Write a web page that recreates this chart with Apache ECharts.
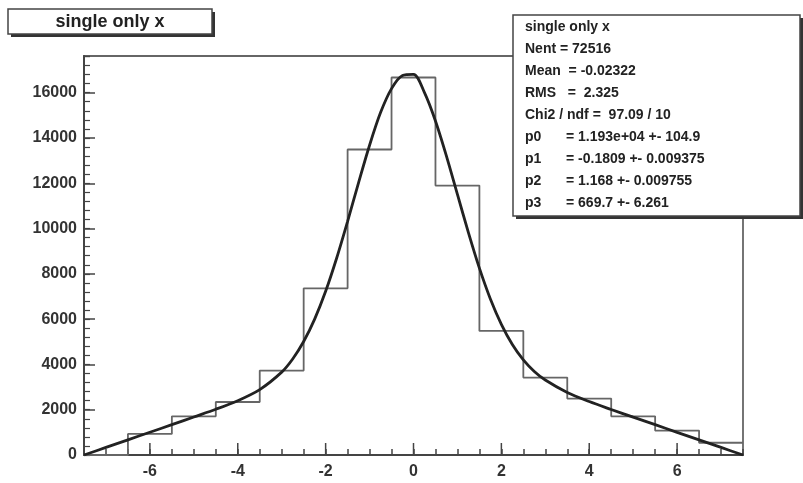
<!DOCTYPE html>
<html>
<head>
<meta charset="utf-8">
<script src="https://cdn.jsdelivr.net/npm/echarts@6/dist/echarts.min.js"></script>
<style>
html,body{margin:0;padding:0;background:#fff;}
#c{width:803px;height:483px;}
</style>
</head>
<body>
<div id="c"></div>
<script>
// ---- data ----
const binEdges = [-7.5,-6.5,-5.5,-4.5,-3.5,-2.5,-1.5,-0.5,0.5,1.5,2.5,3.5,4.5,5.5,6.5,7.5];
const counts   = [0, 930, 1710, 2340, 3730, 7360, 13490, 16670, 11900, 5480, 3420, 2490, 1710, 1080, 540];

const fitX = [-7.5,-7,-6.5,-6,-5.5,-5,-4.5,-4,-3.5,-3,-2.75,-2.5,-2.25,-2,-1.75,-1.5,-1.25,-1,-0.75,-0.5,-0.25,0,0.25,0.5,0.75,1,1.25,1.5,1.75,2,2.25,2.5,2.75,3,3.5,4,4.5,5,5.5,6,6.5,7,7.5];
const fitY = [0,335,670,1005,1340,1680,2020,2400,2890,3660,4240,5010,6000,7230,8690,10320,12030,13680,15120,16180,16760,16810,16000,14750,13200,11510,9820,8250,6890,5770,4880,4200,3690,3310,2760,2360,2010,1670,1340,1000,670,335,0];

const xTickLabels = [-6,-4,-2,0,2,4,6];
const titleText = 'single only x';
const statsLabels = ['single only x','Nent = 72516','Mean  = -0.02322','RMS   =  2.325','Chi2 / ndf =  97.09 / 10','p0','p1','p2','p3'];
const statsValues = ['','','','','','= 1.193e+04 +- 104.9','= -0.1809 +- 0.009375','= 1.168 +- 0.009755','= 669.7 +- 6.261'];

// ---- build ----
const histData = [];
for (let i = 0; i < counts.length; i++) histData.push([binEdges[i], counts[i]]);
histData.push([binEdges[binEdges.length-1], counts[counts.length-1]]);
const fitData = fitX.map((x,i)=>[x, fitY[i]]);

const FONT = '"Liberation Sans", Arial, Helvetica, sans-serif';
const chart = echarts.init(document.getElementById('c'), null, {renderer:'canvas'});

const graphics = [];
// title box
graphics.push({type:'rect', shape:{x:11,y:12,width:204,height:25}, style:{fill:'#333'}, z:100});
graphics.push({type:'rect', shape:{x:8,y:9,width:204,height:25}, style:{fill:'#fff',stroke:'#444',lineWidth:1.5}, z:101});
graphics.push({type:'text', x:110, y:22, style:{text:titleText, font:'bold 18px '+FONT, fill:'#222', textAlign:'center', textVerticalAlign:'middle', align:'center', verticalAlign:'middle'}, z:102});
// stats box
graphics.push({type:'rect', shape:{x:516,y:18,width:290,height:201}, style:{fill:'#333'}, z:100});
graphics.push({type:'rect', shape:{x:513,y:15,width:287,height:201}, style:{fill:'#fff',stroke:'#444',lineWidth:1.5}, z:101});
for (let i = 0; i < statsLabels.length; i++) {
  const y = 27 + i*22;
  graphics.push({type:'text', x:525, y:y, style:{text:statsLabels[i], font:'bold 14px '+FONT, fill:'#222', textAlign:'left', textVerticalAlign:'middle', align:'left', verticalAlign:'middle'}, z:102});
  if (statsValues[i]) graphics.push({type:'text', x:566, y:y, style:{text:statsValues[i], font:'bold 14px '+FONT, fill:'#222', textAlign:'left', textVerticalAlign:'middle', align:'left', verticalAlign:'middle'}, z:102});
}

const option = {
  animation:false,
  backgroundColor:'#fff',
  grid:{left:84, right:60, top:56, bottom:28, show:true, borderColor:'#666', borderWidth:1.8, backgroundColor:'transparent'},
  xAxis:[{
    type:'value', min:-7.5, max:7.5, interval:0.5,
    axisLine:{show:true, onZero:false, lineStyle:{color:'#444', width:2}},
    axisTick:{show:true, inside:true, length:6, lineStyle:{color:'#444', width:1.5}},
    axisLabel:{show:true, margin:9, color:'#333', fontSize:16, fontWeight:'bold', fontFamily:FONT,
      formatter:function(v){ return xTickLabels.indexOf(Math.round(v*100)/100) >= 0 ? String(Math.round(v)) : ''; }},
    splitLine:{show:false}
  }],
  yAxis:[{
    type:'value', min:0, max:17620, interval:2000,
    axisLine:{show:true, onZero:false, lineStyle:{color:'#444', width:2}},
    axisTick:{show:true, inside:true, length:11, lineStyle:{color:'#444', width:1.5}},
    axisLabel:{show:true, margin:7, color:'#333', fontSize:16, fontWeight:'bold', fontFamily:FONT, showMaxLabel:false,
      formatter:function(v){ return String(Math.round(v)); }},
    splitLine:{show:false}
  },{
    type:'value', min:0, max:17620, interval:400, position:'left',
    axisLine:{show:false, onZero:false},
    axisTick:{show:true, inside:true, length:6, lineStyle:{color:'#444', width:1.2}},
    axisLabel:{show:false},
    splitLine:{show:false}
  }],
  graphic:graphics,
  series:[{
    type:'line', name:'hist', data:histData, step:'end', showSymbol:false, symbol:'none',
    lineStyle:{color:'#666', width:1.8}, z:2
  },{
    type:'line', name:'fit', data:fitData, smooth:0.3, showSymbol:false, symbol:'none',
    lineStyle:{color:'#222', width:2.8}, z:3
  },{
    type:'custom', name:'majorTicks', data:xTickLabels.map(v=>[v,0]),
    renderItem:function(params, api){
      const p = api.coord([api.value(0), 0]);
      return {type:'line', shape:{x1:p[0], y1:p[1], x2:p[0], y2:p[1]-12}, style:{stroke:'#444', lineWidth:1.5}};
    }, z:4, silent:true
  }]
};
chart.setOption(option);
</script>
</body>
</html>
